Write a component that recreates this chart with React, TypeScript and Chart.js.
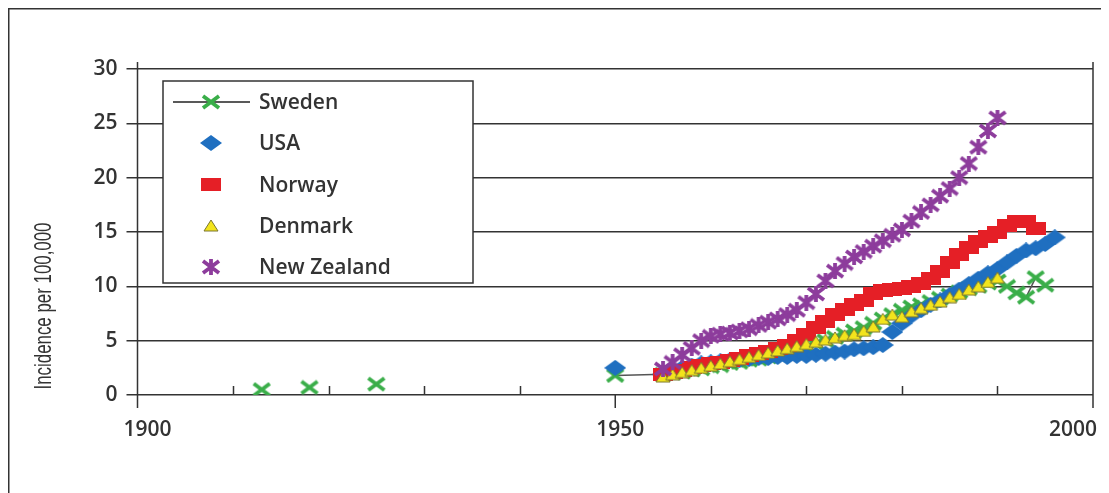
import { useEffect, useRef } from 'react';
import { Chart, registerables } from 'chart.js';

Chart.register(...registerables);

// ---------- data ----------
const seriesNames = ['Sweden', 'USA', 'Norway', 'Denmark', 'New Zealand'];

const swedenEarlyYears = [1913, 1918, 1925, 1950];
const swedenEarlyValues = [0.5, 0.7, 1.0, 1.8];
const swedenStartYear = 1955;
const swedenValues = [
  1.9, 2.0, 2.1, 2.3, 2.4, 2.6, 2.7, 2.9, 3.0, 3.2,
  3.3, 3.5, 3.7, 3.9, 4.1, 4.4, 4.7, 5.0, 5.3, 5.6,
  5.9, 6.2, 6.6, 7.0, 7.4, 7.8, 8.1, 8.3, 8.6, 8.9,
  9.2, 9.5, 9.8, 10.0, 10.3, 10.5, 10.0, 9.4, 9.0, 10.8,
  10.1,
];

const usaEarlyYears = [1950];
const usaEarlyValues = [2.5];
const usaStartYear = 1955;
const usaValues = [
  1.9, 2.2, 2.5, 2.7, 2.9, 3.0, 3.1, 3.2, 3.2, 3.3,
  3.4, 3.4, 3.5, 3.5, 3.6, 3.6, 3.7, 3.8, 3.9, 4.0,
  4.2, 4.3, 4.4, 4.6, 5.8, 6.6, 7.3, 7.8, 8.3, 8.7,
  9.2, 9.7, 10.2, 10.7, 11.2, 11.6, 12.2, 12.8, 13.3, 13.5,
  13.9, 14.5,
];

const norwayStartYear = 1955;
const norwayValues = [
  1.9, 2.1, 2.3, 2.5, 2.7, 2.9, 3.0, 3.2, 3.4, 3.6,
  3.8, 4.0, 4.3, 4.6, 5.0, 5.6, 6.2, 6.8, 7.4, 7.9,
  8.3, 8.7, 9.3, 9.6, 9.7, 9.8, 10.0, 10.3, 10.7, 11.4,
  12.2, 12.9, 13.6, 14.1, 14.6, 15.0, 15.6, 16.0, 16.0, 15.3,
];

const denmarkStartYear = 1955;
const denmarkValues = [
  1.7, 1.9, 2.1, 2.3, 2.5, 2.7, 2.9, 3.1, 3.3, 3.5,
  3.7, 3.9, 4.1, 4.3, 4.5, 4.7, 4.9, 5.1, 5.3, 5.5,
  5.6, 5.9, 6.3, 7.0, 7.4, 7.2, 7.7, 8.0, 8.3, 8.6,
  9.0, 9.3, 9.7, 10.0, 10.4, 10.8,
];

const nzStartYear = 1955;
const nzValues = [
  2.4, 3.0, 3.7, 4.3, 5.0, 5.4, 5.6, 5.7, 5.9, 6.1,
  6.4, 6.7, 7.0, 7.4, 7.8, 8.5, 9.3, 10.5, 11.4, 12.1,
  12.7, 13.2, 13.7, 14.2, 14.7, 15.2, 16.0, 16.8, 17.5, 18.3,
  19.0, 20.0, 21.3, 22.8, 24.3, 25.5,
];

const xMajorTicks = [1900, 1950, 2000];
const xTickLabels = ['1900', '1950', '2000'];
const xMinorTicks = [1910, 1920, 1930, 1940, 1960, 1970, 1980, 1990];
const yAxisTitle = 'Incidence per 100,000';

// ---------- helpers ----------
const toPoints = (years: number[], values: number[]) =>
  years.map((yr, i) => ({ x: yr, y: values[i] }));
const toSeries = (start: number, values: number[]) =>
  values.map((v, i) => ({ x: start + i, y: v }));

const GREEN = '#3aae49';
const BLUE = '#1f6fc0';
const RED = '#e51f26';
const YELLOW = '#f3e41c';
const PURPLE = '#8d3c9c';
const INK = '#333333';

function makeMarker(w: number, h: number, draw: (c: CanvasRenderingContext2D) => void) {
  const c = document.createElement('canvas');
  c.width = w;
  c.height = h;
  const ctx = c.getContext('2d') as CanvasRenderingContext2D;
  draw(ctx);
  return c;
}

function buildMarkers() {
  const cross = makeMarker(20, 16, (c) => {
    c.strokeStyle = GREEN;
    c.lineWidth = 3.8;
    c.beginPath();
    c.moveTo(2, 2); c.lineTo(18, 14);
    c.moveTo(18, 2); c.lineTo(2, 14);
    c.stroke();
  });
  const diamond = makeMarker(22, 16, (c) => {
    c.fillStyle = BLUE;
    c.beginPath();
    c.moveTo(0, 8); c.lineTo(11, 0); c.lineTo(22, 8); c.lineTo(11, 16);
    c.closePath();
    c.fill();
  });
  const square = makeMarker(20, 13, (c) => {
    c.fillStyle = RED;
    c.fillRect(0, 0, 20, 13);
  });
  const triangle = makeMarker(16, 13, (c) => {
    c.fillStyle = YELLOW;
    c.strokeStyle = '#7a7630';
    c.lineWidth = 1;
    c.beginPath();
    c.moveTo(8, 1); c.lineTo(15, 12); c.lineTo(1, 12);
    c.closePath();
    c.fill();
    c.stroke();
  });
  const star = makeMarker(20, 16, (c) => {
    c.strokeStyle = PURPLE;
    c.lineWidth = 3.8;
    c.beginPath();
    c.moveTo(2, 2); c.lineTo(18, 14);
    c.moveTo(18, 2); c.lineTo(2, 14);
    c.moveTo(10, 0); c.lineTo(10, 16);
    c.stroke();
  });
  return [cross, diamond, square, triangle, star];
}

export default function App() {
  const ref = useRef<HTMLCanvasElement | null>(null);

  useEffect(() => {
    if (!ref.current) return;
    const markers = buildMarkers();

    const decor = {
      id: 'decor',
      beforeDraw(chart: any) {
        const { ctx, width, height } = chart;
        ctx.save();
        ctx.strokeStyle = INK;
        ctx.lineWidth = 1.5;
        ctx.beginPath();
        ctx.moveTo(0.75, height);
        ctx.lineTo(0.75, 0.75);
        ctx.lineTo(width, 0.75);
        ctx.stroke();
        ctx.restore();
      },
      beforeDatasetsDraw(chart: any) {
        const { ctx, chartArea: ca, scales } = chart;
        const xs = scales.x;
        ctx.save();
        ctx.strokeStyle = INK;
        ctx.lineWidth = 1.5;
        ctx.beginPath();
        ctx.moveTo(ca.left, ca.top - 7);
        ctx.lineTo(ca.left, ca.bottom + 13);
        ctx.moveTo(ca.right, ca.top - 7);
        ctx.lineTo(ca.right, ca.bottom + 13);
        xMinorTicks.forEach((t) => {
          const px = Math.round(xs.getPixelForValue(t)) + 0.5;
          ctx.moveTo(px, ca.bottom);
          ctx.lineTo(px, ca.bottom - 9);
        });
        xMajorTicks.forEach((t) => {
          const px = xs.getPixelForValue(t);
          ctx.moveTo(px, ca.bottom);
          ctx.lineTo(px, ca.bottom + 13);
        });
        ctx.stroke();

        ctx.fillStyle = INK;
        ctx.font = '600 21px "Open Sans", sans-serif';
        ctx.textAlign = 'center';
        ctx.textBaseline = 'middle';
        const shifts = [10, 5, -20];
        xMajorTicks.forEach((t, i) => {
          const px = xs.getPixelForValue(t);
          ctx.fillText(xTickLabels[i], px + shifts[i], ca.bottom + 35);
        });

        ctx.translate(36, ca.bottom - 89);
        ctx.rotate(-Math.PI / 2);
        ctx.font = '24px "Liberation Sans", Arial, sans-serif';
        const tw = ctx.measureText(yAxisTitle).width;
        const sx = 167 / tw;
        ctx.scale(sx, 1);
        ctx.fillText(yAxisTitle, 0, 0);
        ctx.restore();
      },
      afterDraw(chart: any) {
        const { ctx, chartArea: ca } = chart;
        const bx = ca.left + 25.5;
        const by = ca.top + 12;
        const bw = 310;
        const bh = 202;
        ctx.save();
        ctx.fillStyle = '#ffffff';
        ctx.fillRect(bx, by, bw, bh);
        ctx.strokeStyle = INK;
        ctx.lineWidth = 1.5;
        ctx.strokeRect(bx, by, bw, bh);
        ctx.font = '600 21px "Open Sans", sans-serif';
        ctx.textAlign = 'left';
        ctx.textBaseline = 'middle';
        seriesNames.forEach((name, i) => {
          const ry = by + 21 + i * 41.3;
          const mx = bx + 48;
          if (i === 0) {
            ctx.strokeStyle = '#222';
            ctx.lineWidth = 1.5;
            ctx.beginPath();
            ctx.moveTo(bx + 10, ry);
            ctx.lineTo(bx + 87, ry);
            ctx.stroke();
          }
          const m = markers[i];
          ctx.drawImage(m, Math.round(mx - m.width / 2), Math.round(ry - m.height / 2));
          ctx.fillStyle = INK;
          ctx.fillText(name, bx + 96, ry + 1);
        });
        ctx.restore();
      },
    };

    const sweden = [
      ...toPoints(swedenEarlyYears, swedenEarlyValues),
      ...toSeries(swedenStartYear, swedenValues),
    ];
    const usa = [
      ...toPoints(usaEarlyYears, usaEarlyValues),
      ...toSeries(usaStartYear, usaValues),
    ];

    const chart = new Chart(ref.current, {
      type: 'scatter',
      data: {
        datasets: [
          {
            label: seriesNames[0],
            data: sweden,
            showLine: true,
            borderColor: '#555555',
            borderWidth: 1.5,
            pointStyle: markers[0] as any,
            pointRadius: 6,
            order: 5,
            segment: {
              borderColor: (c: any) => (c.p0.parsed.x < 1950 ? 'rgba(0,0,0,0)' : '#555555'),
            },
          },
          {
            label: seriesNames[1],
            data: usa,
            showLine: false,
            pointStyle: markers[1] as any,
            pointRadius: 6,
            order: 4,
          },
          {
            label: seriesNames[2],
            data: toSeries(norwayStartYear, norwayValues),
            showLine: false,
            pointStyle: markers[2] as any,
            pointRadius: 6,
            order: 3,
          },
          {
            label: seriesNames[3],
            data: toSeries(denmarkStartYear, denmarkValues),
            showLine: false,
            pointStyle: markers[3] as any,
            pointRadius: 6,
            order: 2,
          },
          {
            label: seriesNames[4],
            data: toSeries(nzStartYear, nzValues),
            showLine: false,
            pointStyle: markers[4] as any,
            pointRadius: 6,
            order: 1,
          },
        ],
      },
      options: {
        animation: false,
        responsive: false,
        devicePixelRatio: 1,
        layout: { padding: { left: 0, top: 61, right: 8, bottom: 98 } },
        plugins: { legend: { display: false }, tooltip: { enabled: false } },
        scales: {
          x: {
            type: 'linear',
            min: 1900,
            max: 2000,
            grid: { display: false },
            border: { display: false },
            ticks: { display: false },
            afterFit: (s: any) => { s.height = 0; },
          },
          y: {
            min: 0,
            max: 30,
            ticks: {
              stepSize: 5,
              color: INK,
              padding: 9,
              font: { family: '"Open Sans", sans-serif', size: 21, weight: '600' },
            },
            grid: { color: INK, lineWidth: 1.5, tickLength: 11, drawTicks: true },
            border: { display: false },
            afterFit: (s: any) => { s.width = 129.5; },
          },
        },
      },
      plugins: [decor],
    } as any);

    return () => chart.destroy();
  }, []);

  return (
    <div style={{ width: 1093, height: 485, position: 'relative' }}>
      <canvas ref={ref} width={1093} height={485} style={{ display: 'block' }} />
    </div>
  );
}
